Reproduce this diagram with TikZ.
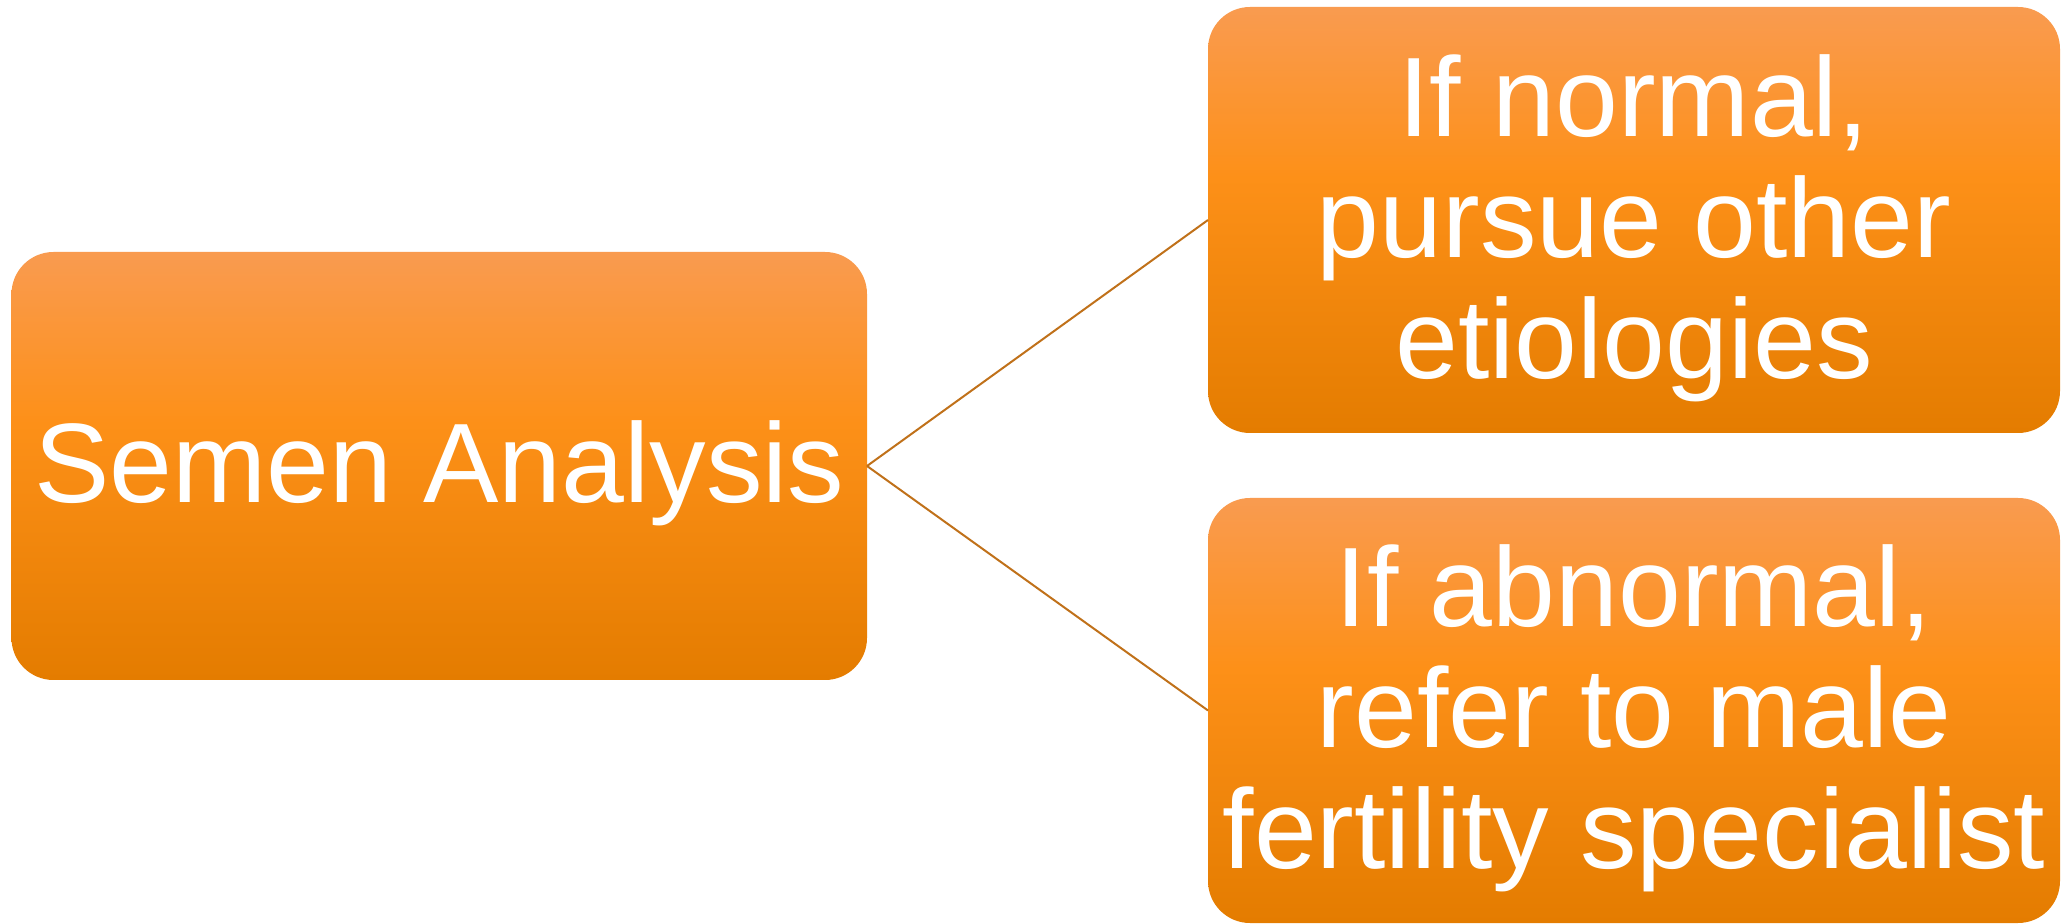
\documentclass[tikz,border=0pt]{standalone}
\usepackage{fontspec}
\setmainfont{Liberation Sans}
\definecolor{saLight}{HTML}{F99B50}
\definecolor{saOrange}{HTML}{FD9018}
\definecolor{saDeep}{HTML}{E47C00}
\definecolor{saLine}{HTML}{C0711A}
\pgfdeclareverticalshading{saShade}{100bp}{color(0bp)=(saDeep); color(25bp)=(saDeep);
  color(55bp)=(saOrange); color(75bp)=(saLight); color(100bp)=(saLight)}
\tikzset{
  sa box/.style={rectangle, rounded corners=21pt, inner sep=0pt, outer sep=0pt,
    shading=saShade, text=white, align=center,
    font=\fontsize{56.5pt}{60.5pt}\selectfont},
  sa link/.style={draw=saLine, line width=1pt},
}

\begin{document}
\begin{tikzpicture}[x=0.5pt, y=-0.5pt]
  \useasboundingbox (0,0) rectangle (2062,924);

  % Root box on the left
  \node[sa box, text height=48pt, minimum width=427.75pt, minimum height=214pt] (analysis) at (439.25,466) {Semen Analysis};

  % Two outcomes on the right (text height counts up from the last line)
  \node[sa box, text height=170pt, minimum width=426pt, minimum height=213pt] (normal) at (1634,220)
    {If normal,\\pursue other\\etiologies};
  \node[sa box, text height=170pt, minimum width=426pt, minimum height=212.5pt] (abnormal) at (1634,710.5)
    {If abnormal,\\refer to male\\fertility specialist};

  % Connectors
  \draw[sa link] (analysis.east) -- (normal.west);
  \draw[sa link] (analysis.east) -- (abnormal.west);
\end{tikzpicture}
\end{document}
